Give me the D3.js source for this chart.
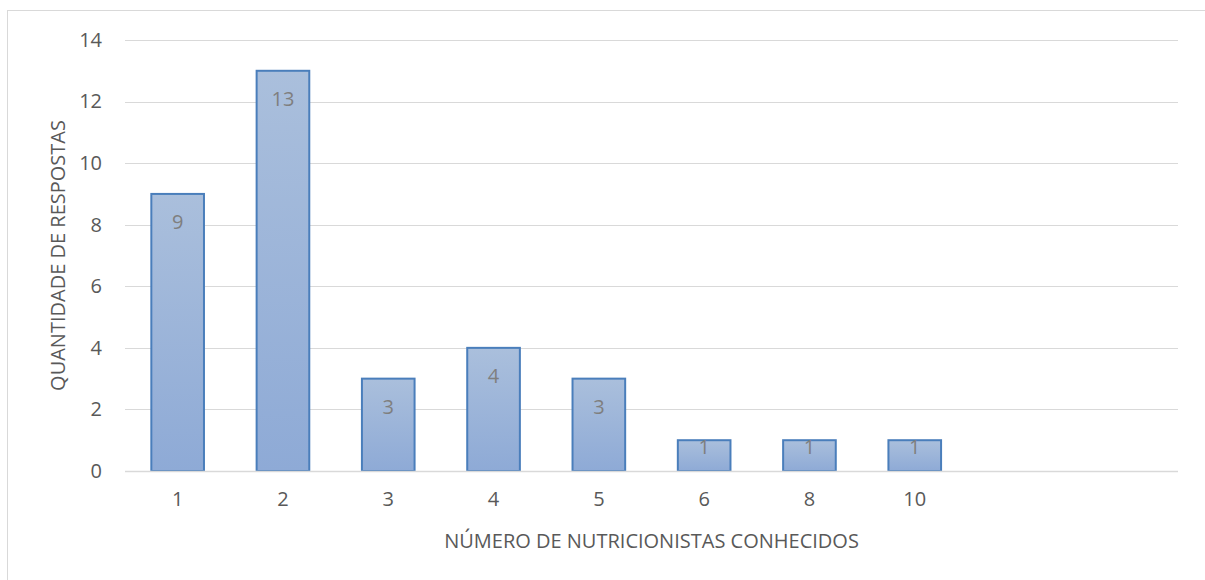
<!DOCTYPE html>
<html>
<head>
<meta charset="utf-8">
<script src="https://cdn.jsdelivr.net/npm/d3@7"></script>
<style>
  body { margin: 0; background: #fff; }
  svg { display: block; font-family: "Open Sans", "Liberation Sans", sans-serif; }
</style>
</head>
<body>
<svg id="chart" width="1205" height="580"></svg>
<script>
// categories (last two slots are empty in the original chart)
const categories = ['1', '2', '3', '4', '5', '6', '8', '10', '', ' '];
const respostas = [9, 13, 3, 4, 3, 1, 1, 1, null, null];
const yTicks = [0, 2, 4, 6, 8, 10, 12, 14];

const svg = d3.select('#chart');
const margin = {left: 125, right: 27, top: 40, bottom: 109};
const W = 1205, H = 580;
const fs = 20;

// chart area border
svg.append('rect')
  .attr('x', 7.5).attr('y', 10.5)
  .attr('width', 1205).attr('height', 600)
  .attr('fill', 'none').attr('stroke', '#d9d9d9').attr('stroke-width', 1);

const x = d3.scaleBand()
  .domain(categories)
  .range([margin.left, W - margin.right])
  .paddingInner(0.5).paddingOuter(0.25);

const y = d3.scaleLinear()
  .domain([0, 14])
  .range([H - margin.bottom, margin.top]);

const defs = svg.append('defs');
const grad = defs.append('linearGradient')
  .attr('id', 'barGrad').attr('x1', 0).attr('y1', 0).attr('x2', 0).attr('y2', 1);
grad.append('stop').attr('offset', '0%').attr('stop-color', '#aabfdc');
grad.append('stop').attr('offset', '100%').attr('stop-color', '#8eaad6');

// gridlines
svg.append('g')
  .selectAll('line')
  .data(yTicks)
  .join('line')
  .attr('x1', margin.left).attr('x2', W - margin.right)
  .attr('y1', d => Math.round(y(d)) + 0.5).attr('y2', d => Math.round(y(d)) + 0.5)
  .attr('stroke', '#d9d9d9').attr('stroke-width', 1);

// y axis labels
const yAxis = svg.append('g')
  .attr('transform', `translate(${margin.left - 23},0)`)
  .call(d3.axisLeft(y).tickValues(yTicks).tickSize(0).tickPadding(0));
yAxis.select('.domain').remove();
yAxis.selectAll('text')
  .attr('fill', '#595959').attr('font-size', fs)
  .attr('font-family', '"Open Sans", sans-serif');

// x axis labels
const xAxis = svg.append('g')
  .attr('transform', `translate(0,${H - margin.bottom})`)
  .call(d3.axisBottom(x).tickSize(0).tickPadding(21));
xAxis.select('.domain').remove();
xAxis.selectAll('text')
  .attr('fill', '#595959').attr('font-size', fs)
  .attr('font-family', '"Open Sans", sans-serif');

// bars
const data = categories.map((c, i) => ({c, v: respostas[i]})).filter(d => d.v != null);

svg.append('g')
  .selectAll('rect')
  .data(data)
  .join('rect')
  .attr('x', d => x(d.c))
  .attr('y', d => y(d.v))
  .attr('width', x.bandwidth())
  .attr('height', d => y(0) - y(d.v))
  .attr('fill', 'url(#barGrad)')
  .attr('stroke', '#4a7ebb')
  .attr('stroke-width', 2);

// data labels
svg.append('g')
  .selectAll('text')
  .data(data)
  .join('text')
  .attr('x', d => x(d.c) + x.bandwidth() / 2)
  .attr('y', d => Math.min(y(d.v) + 28, y(0) - 25))
  .attr('text-anchor', 'middle')
  .attr('dominant-baseline', 'central')
  .attr('fill', '#7f7f7f')
  .attr('font-size', fs)
  .text(d => d.v);

// baseline
svg.append('line')
  .attr('x1', margin.left).attr('x2', W - margin.right)
  .attr('y1', y(0) + 0.5).attr('y2', y(0) + 0.5)
  .attr('stroke', '#d9d9d9').attr('stroke-width', 1.5);

// axis titles
svg.append('text')
  .attr('x', (margin.left + W - margin.right) / 2)
  .attr('y', 540)
  .attr('text-anchor', 'middle')
  .attr('dominant-baseline', 'central')
  .attr('fill', '#595959').attr('font-size', fs)
  .text('NÚMERO DE NUTRICIONISTAS CONHECIDOS');

svg.append('text')
  .attr('transform', `translate(57,${(margin.top + H - margin.bottom) / 2}) rotate(-90)`)
  .attr('text-anchor', 'middle')
  .attr('dominant-baseline', 'central')
  .attr('fill', '#595959').attr('font-size', fs)
  .text('QUANTIDADE DE RESPOSTAS');
</script>
</body>
</html>
